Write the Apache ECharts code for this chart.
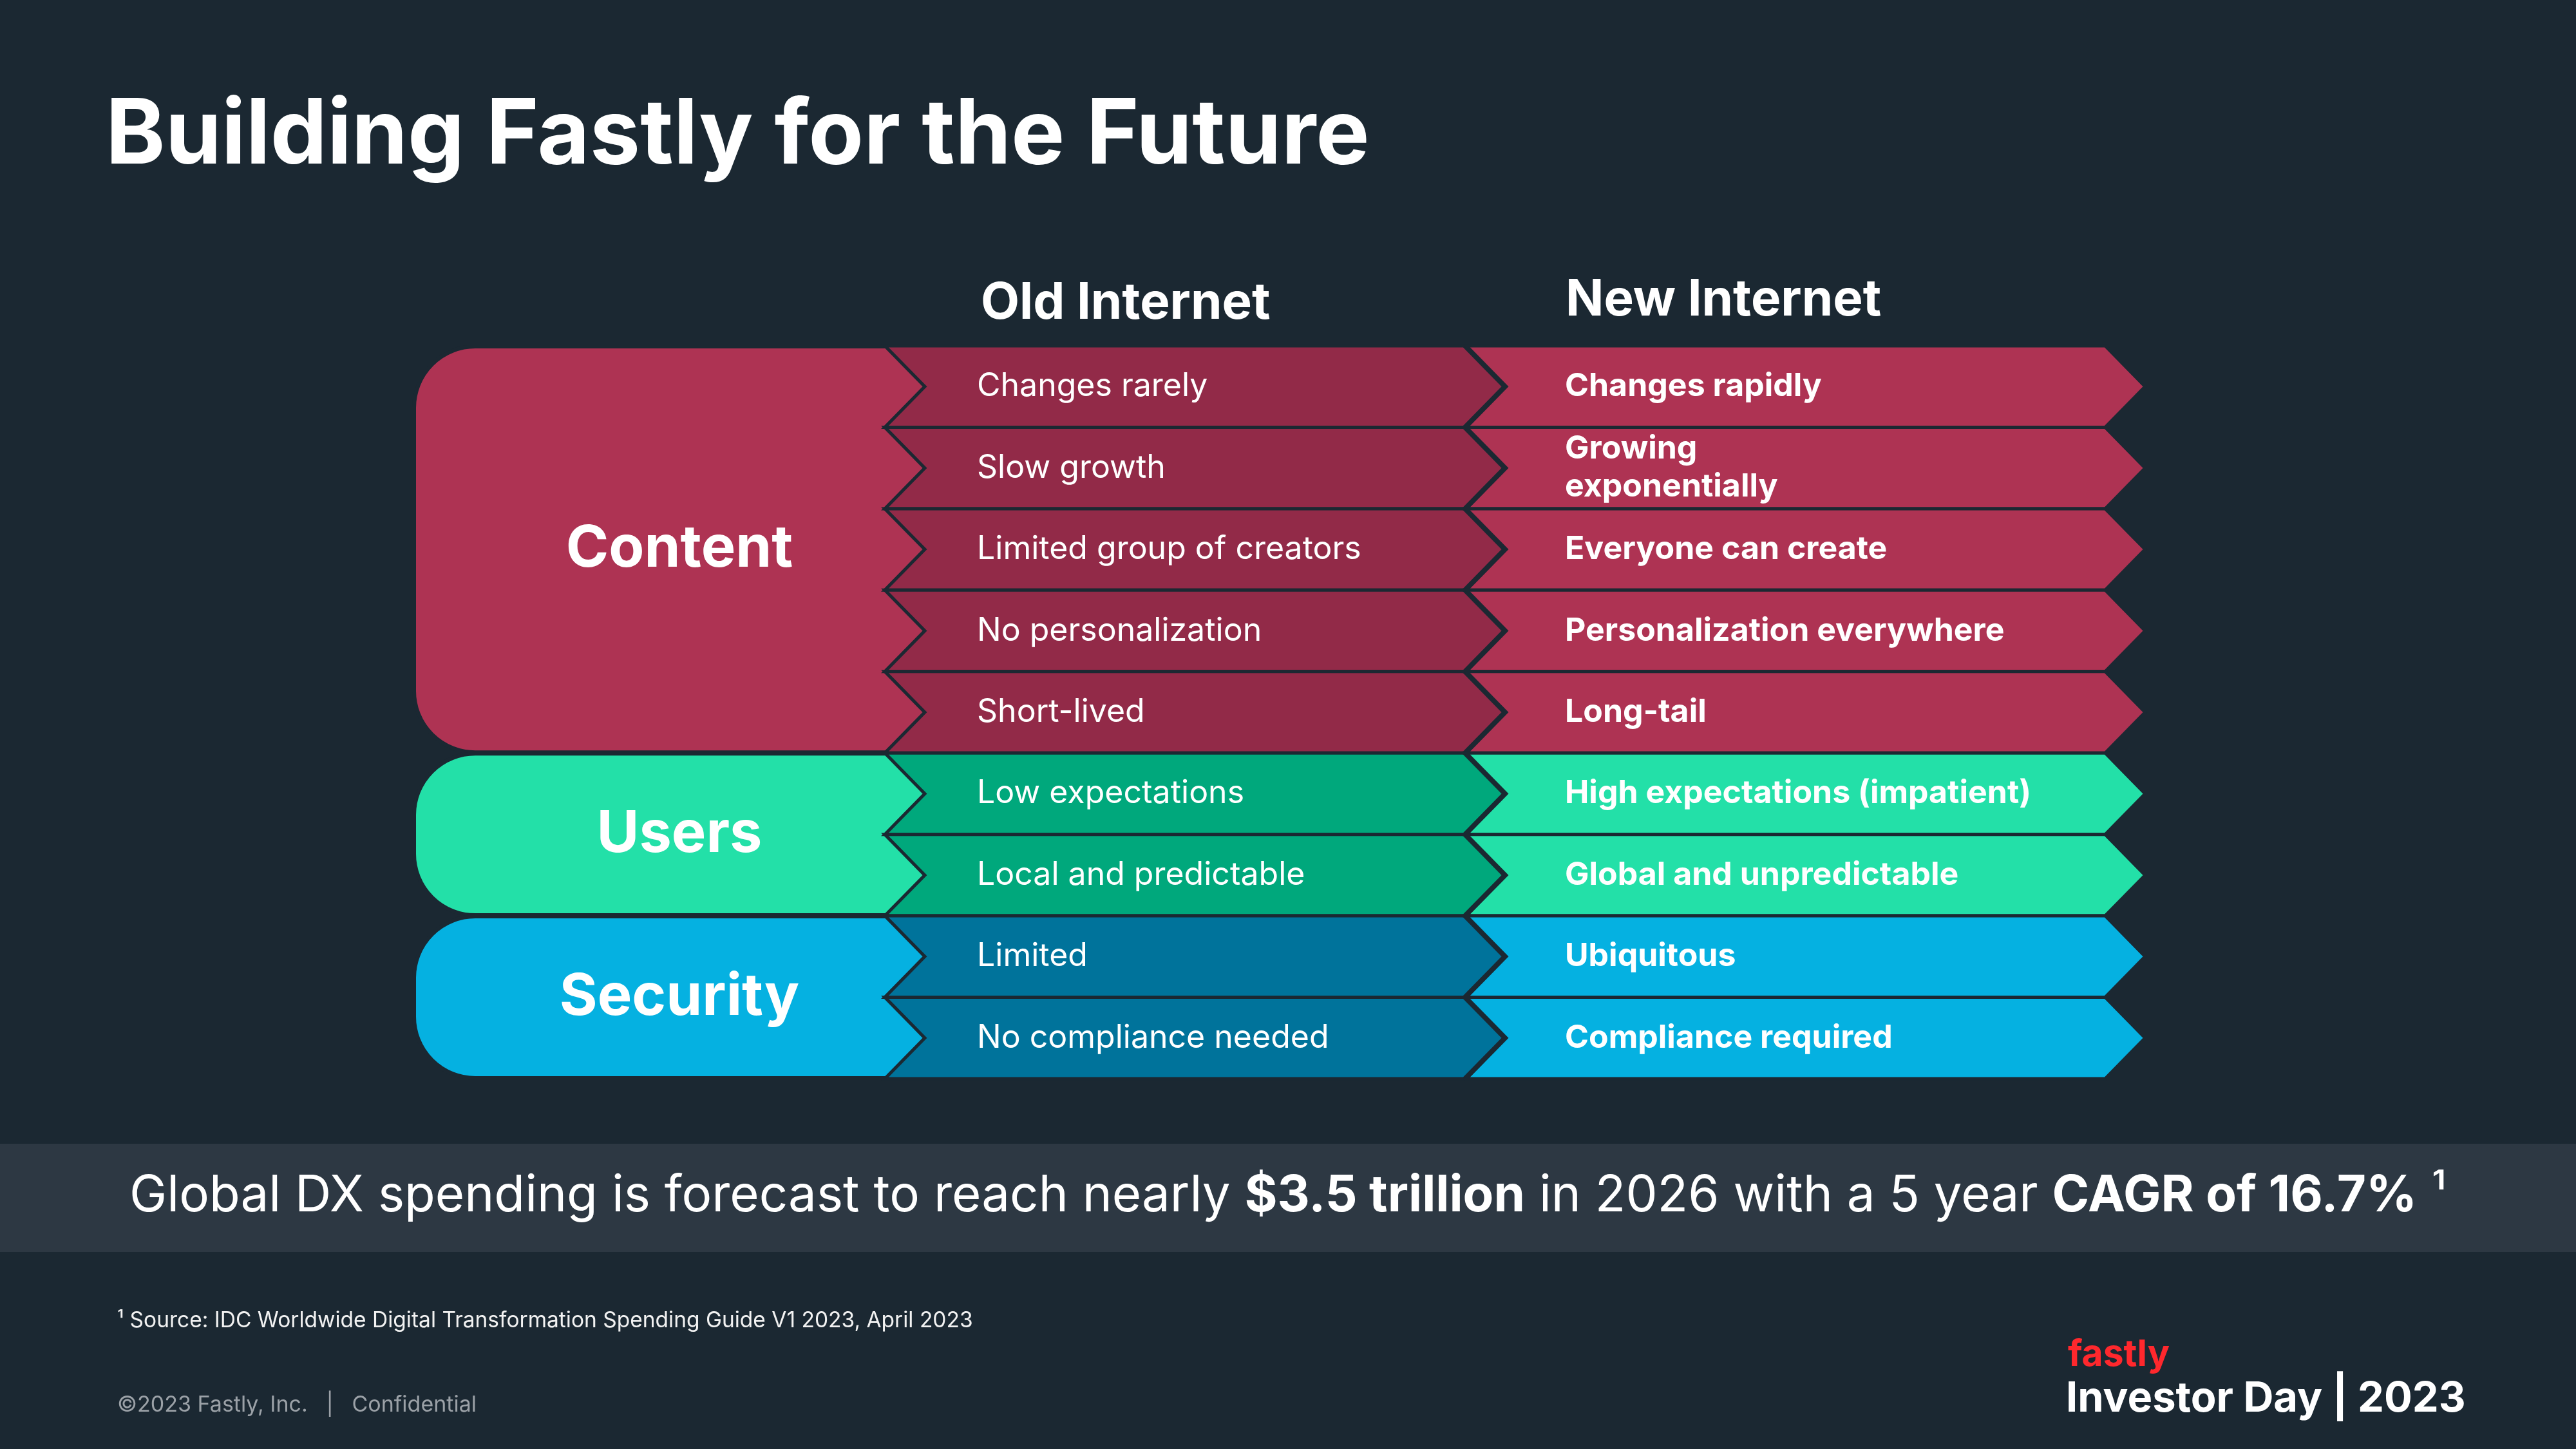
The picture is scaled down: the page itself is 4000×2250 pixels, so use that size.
<!DOCTYPE html>
<html>
<head>
<meta charset="utf-8">
<title>Building Fastly for the Future</title>
<script src="https://cdn.jsdelivr.net/npm/echarts@6/dist/echarts.min.js"></script>
<style>
html, body { margin: 0; padding: 0; background: #1b2832; }
#main { width: 4000px; height: 2250px; }
</style>
</head>
<body>
<div id="main"></div>
<script>
// data
const groups = ['Content', 'Users', 'Security']
const groupRowCounts = [5, 2, 2]
const columns = ['Old Internet', 'New Internet']
const oldInternet = [
  'Changes rarely',
  'Slow growth',
  'Limited group of creators',
  'No personalization',
  'Short-lived',
  'Low expectations',
  'Local and predictable',
  'Limited',
  'No compliance needed'
]
const newInternet = [
  'Changes rapidly',
  'Growing\nexponentially',
  'Everyone can create',
  'Personalization everywhere',
  'Long-tail',
  'High expectations (impatient)',
  'Global and unpredictable',
  'Ubiquitous',
  'Compliance required'
]
const rowIds = oldInternet.map((t, i) => 'row' + i)

// styles
const BG = '#1b2832'
const FONT = 'Inter, "Noto Sans", sans-serif'
const groupColors = ['#ae3353', '#23e0a8', '#05b1e1']
const oldColors = ['#922a48', '#00a87c', '#00739b']
const newColors = groupColors

// which group each row belongs to
const rowGroup = []
const groupSpans = []
let start = 0
groupRowCounts.forEach((n, g) => {
  groupSpans.push([0, start, start + n - 1, g])
  for (let k = 0; k < n; k++) rowGroup.push(g)
  start += n
})

function renderGroup (params, api) {
  const g = api.value(3)
  const h = api.size([0, 1])[1]
  const a = api.coord([0, api.value(1)])
  const b = api.coord([1, api.value(2)])
  const top = a[1] - h / 2 + 1
  const bottom = b[1] + h / 2 - 1
  return {
    type: 'group',
    children: [
      {
        type: 'rect',
        shape: { x: a[0], y: top, width: b[0] - a[0], height: bottom - top, r: [95, 0, 0, 95] },
        style: { fill: groupColors[g], stroke: BG, lineWidth: 6 }
      },
      {
        type: 'text',
        style: {
          x: a[0] + 412,
          y: (top + bottom) / 2,
          text: groups[g],
          fill: '#ffffff',
          fontFamily: FONT,
          fontWeight: 'bold',
          fontSize: 90,
          align: 'center',
          verticalAlign: 'middle'
        }
      }
    ]
  }
}

function chevron (texts, colors, textOffset, weight) {
  return function (params, api) {
    const row = api.value(1)
    const h = api.size([0, 1])[1]
    const p0 = api.coord([0, row])
    const p1 = api.coord([1, row])
    const top = p0[1] - h / 2
    const mid = p0[1]
    const bottom = p0[1] + h / 2
    const d = 62
    return {
      type: 'group',
      children: [
        {
          type: 'polygon',
          shape: {
            points: [
              [p0[0], top], [p1[0] - d, top], [p1[0], mid],
              [p1[0] - d, bottom], [p0[0], bottom], [p0[0] + d, mid]
            ]
          },
          style: { fill: colors[rowGroup[row]], stroke: BG, lineWidth: 5, lineJoin: 'miter' }
        },
        {
          type: 'text',
          style: {
            x: p0[0] + textOffset,
            y: mid,
            text: texts[row],
            fill: '#ffffff',
            fontFamily: FONT,
            fontWeight: weight,
            fontSize: 50,
            lineHeight: 59,
            align: 'left',
            verticalAlign: 'middle'
          }
        }
      ]
    }
  }
}

const rowData = rowIds.map((id, i) => [0, i])
const gridTop = 537
const gridHeight = 1138

const chart = echarts.init(document.getElementById('main'), null, { renderer: 'canvas' })
chart.setOption({
  backgroundColor: BG,
  animation: false,
  grid: [
    { left: 643, width: 797, top: gridTop, height: gridHeight },
    { left: 1374, width: 961, top: gridTop, height: gridHeight },
    { left: 2277, width: 1054, top: gridTop, height: gridHeight }
  ],
  xAxis: [0, 1, 2].map(i => ({ type: 'value', gridIndex: i, min: 0, max: 1, show: false })),
  yAxis: [0, 1, 2].map(i => ({ type: 'category', gridIndex: i, data: rowIds, inverse: true, show: false })),
  series: [
    {
      type: 'custom',
      xAxisIndex: 0,
      yAxisIndex: 0,
      renderItem: renderGroup,
      data: groupSpans
    },
    {
      type: 'custom',
      xAxisIndex: 1,
      yAxisIndex: 1,
      renderItem: chevron(oldInternet, oldColors, 143, 'normal'),
      data: rowData
    },
    {
      type: 'custom',
      xAxisIndex: 2,
      yAxisIndex: 2,
      renderItem: chevron(newInternet, newColors, 153, 'bold'),
      data: rowData
    }
  ],
  graphic: [
    {
      type: 'text',
      x: 164,
      y: 212,
      style: { text: 'Building Fastly for the Future', fill: '#ffffff', fontFamily: FONT, fontWeight: 'bold', fontSize: 140, verticalAlign: 'middle' }
    },
    {
      type: 'text',
      x: 1523,
      y: 472,
      style: { text: columns[0], fill: '#ffffff', fontFamily: FONT, fontWeight: 'bold', fontSize: 78, verticalAlign: 'middle' }
    },
    {
      type: 'text',
      x: 2431,
      y: 467,
      style: { text: columns[1], fill: '#ffffff', fontFamily: FONT, fontWeight: 'bold', fontSize: 78, verticalAlign: 'middle' }
    },
    {
      type: 'rect',
      shape: { x: 0, y: 1776, width: 4000, height: 168 },
      style: { fill: '#2d3843' }
    },
    {
      type: 'text',
      x: 2000,
      y: 1858,
      style: {
        text: 'Global DX spending is forecast to reach nearly {b|$3.5 trillion} in 2026 with a 5 year {b|CAGR of 16.7%} {s|¹}',
        fill: '#ffffff',
        fontFamily: FONT,
        fontSize: 78,
        align: 'center',
        verticalAlign: 'middle',
        rich: {
          b: { fill: '#ffffff', fontFamily: FONT, fontSize: 78, fontWeight: 'bold' },
          s: { fill: '#ffffff', fontFamily: FONT, fontSize: 78 }
        }
      }
    },
    {
      type: 'text',
      x: 182,
      y: 2051,
      style: { text: '¹ Source: IDC Worldwide Digital Transformation Spending Guide V1 2023, April 2023', fill: '#f2f2f2', fontFamily: FONT, fontSize: 33.5, verticalAlign: 'middle' }
    },
    {
      type: 'text',
      x: 182,
      y: 2182,
      style: { text: '©2023 Fastly, Inc.   |   Confidential', fill: '#9ba1a7', fontFamily: FONT, fontSize: 34, verticalAlign: 'middle' }
    },
    {
      type: 'text',
      x: 3211,
      y: 2104,
      style: { text: 'fastly', fill: '#ff282d', fontFamily: FONT, fontWeight: 'bold', fontSize: 57, verticalAlign: 'middle' }
    },
    {
      type: 'text',
      x: 3208,
      y: 2172,
      style: { text: 'Investor Day | 2023', fill: '#ffffff', fontFamily: FONT, fontWeight: 'bold', fontSize: 65, verticalAlign: 'middle' }
    }
  ]
})
</script>
</body>
</html>
